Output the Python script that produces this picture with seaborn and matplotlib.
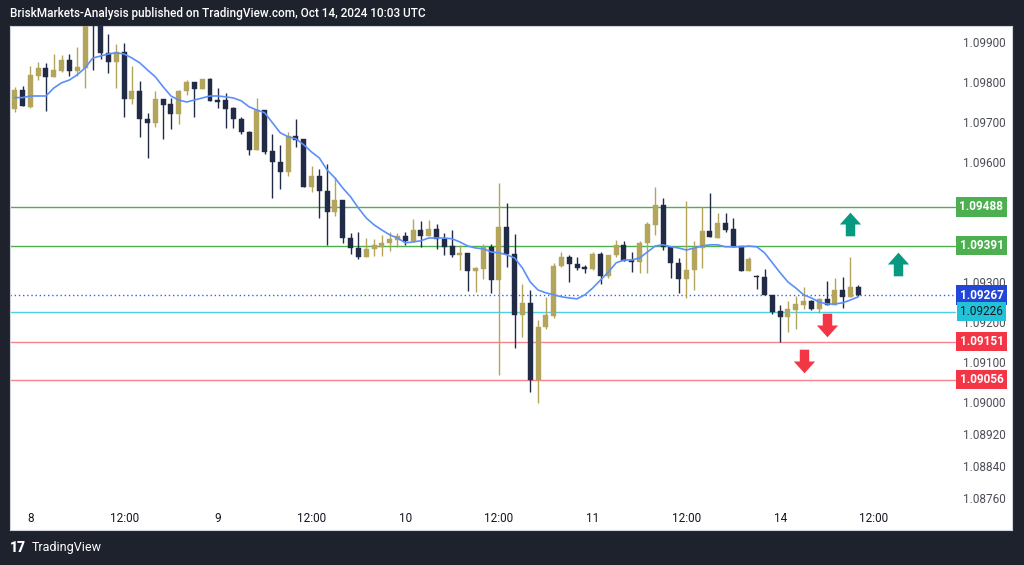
import numpy as np
import pandas as pd
import matplotlib
matplotlib.use("Agg")
import matplotlib.pyplot as plt
import matplotlib.transforms as mtransforms
from matplotlib.path import Path
import seaborn as sns

# ---------------- data (EUR/USD 1h) ----------------
opens = [1.09733, 1.09780, 1.09738, 1.09815, 1.09835, 1.09813, 1.09828, 1.09855, 1.09828, 1.09835,
         1.09950, 1.09943, 1.09873, 1.09850, 1.09875, 1.09758, 1.09778, 1.09708, 1.09698, 1.09758,
         1.09745, 1.09720, 1.09778, 1.09800, 1.09783, 1.09808, 1.09755, 1.09755, 1.09735, 1.09708,
         1.09675, 1.09630, 1.09730, 1.09628, 1.09600, 1.09575, 1.09665, 1.09658, 1.09538, 1.09565,
         1.09528, 1.09475, 1.09505, 1.09410, 1.09385, 1.09363, 1.09383, 1.09388, 1.09398, 1.09405,
         1.09415, 1.09403, 1.09430, 1.09415, 1.09433, 1.09408, 1.09390, 1.09368, 1.09373, 1.09328,
         1.09333, 1.09388, 1.09305, 1.09438, 1.09370, 1.09218, 1.09248, 1.09055, 1.09188, 1.09215,
         1.09340, 1.09363, 1.09345, 1.09338, 1.09333, 1.09370, 1.09315, 1.09368, 1.09393, 1.09355,
         1.09350, 1.09398, 1.09443, 1.09493, 1.09388, 1.09348, 1.09308, 1.09330, 1.09385, 1.09428,
         1.09410, 1.09448, 1.09433, 1.09390, 1.09328, 1.09315, 1.09313, 1.09268, 1.09228, 1.09213,
         1.09230, 1.09243, 1.09253, 1.09233, 1.09258, 1.09243, 1.09280, 1.09263, 1.09288]
highs = [1.09788, 1.09790, 1.09840, 1.09850, 1.09848, 1.09870, 1.09868, 1.09870, 1.09888, 1.09968,
         1.09968, 1.09950, 1.09920, 1.09895, 1.09898, 1.09840, 1.09803, 1.09723, 1.09778, 1.09758,
         1.09760, 1.09780, 1.09805, 1.09800, 1.09808, 1.09810, 1.09785, 1.09773, 1.09738, 1.09713,
         1.09678, 1.09760, 1.09730, 1.09670, 1.09643, 1.09675, 1.09708, 1.09658, 1.09590, 1.09583,
         1.09595, 1.09563, 1.09505, 1.09423, 1.09425, 1.09410, 1.09408, 1.09418, 1.09425, 1.09423,
         1.09425, 1.09458, 1.09453, 1.09455, 1.09445, 1.09423, 1.09430, 1.09393, 1.09373, 1.09338,
         1.09395, 1.09395, 1.09548, 1.09498, 1.09420, 1.09295, 1.09280, 1.09205, 1.09263, 1.09348,
         1.09375, 1.09368, 1.09363, 1.09343, 1.09375, 1.09375, 1.09368, 1.09405, 1.09403, 1.09375,
         1.09403, 1.09450, 1.09538, 1.09510, 1.09390, 1.09360, 1.09503, 1.09403, 1.09488, 1.09523,
         1.09473, 1.09473, 1.09460, 1.09390, 1.09363, 1.09318, 1.09333, 1.09268, 1.09243, 1.09253,
         1.09265, 1.09288, 1.09255, 1.09260, 1.09303, 1.09310, 1.09313, 1.09363, 1.09293]
lows = [1.09725, 1.09740, 1.09735, 1.09805, 1.09728, 1.09813, 1.09825, 1.09815, 1.09815, 1.09785,
        1.09830, 1.09858, 1.09823, 1.09785, 1.09713, 1.09745, 1.09663, 1.09610, 1.09688, 1.09658,
        1.09683, 1.09695, 1.09768, 1.09713, 1.09783, 1.09753, 1.09735, 1.09685, 1.09685, 1.09670,
        1.09618, 1.09630, 1.09620, 1.09510, 1.09533, 1.09565, 1.09638, 1.09538, 1.09525, 1.09460,
        1.09393, 1.09465, 1.09398, 1.09370, 1.09358, 1.09363, 1.09365, 1.09365, 1.09378, 1.09388,
        1.09393, 1.09403, 1.09388, 1.09415, 1.09383, 1.09368, 1.09363, 1.09330, 1.09278, 1.09275,
        1.09308, 1.09273, 1.09068, 1.09338, 1.09135, 1.09163, 1.09025, 1.08998, 1.09183, 1.09210,
        1.09338, 1.09300, 1.09330, 1.09323, 1.09330, 1.09295, 1.09310, 1.09363, 1.09353, 1.09325,
        1.09323, 1.09323, 1.09418, 1.09380, 1.09310, 1.09273, 1.09260, 1.09280, 1.09335, 1.09413,
        1.09410, 1.09425, 1.09388, 1.09328, 1.09328, 1.09283, 1.09268, 1.09220, 1.09150, 1.09175,
        1.09183, 1.09233, 1.09230, 1.09223, 1.09243, 1.09243, 1.09235, 1.09263, 1.09265]
closes = [1.09780, 1.09740, 1.09818, 1.09835, 1.09813, 1.09830, 1.09855, 1.09828, 1.09838, 1.09950,
          1.09943, 1.09873, 1.09850, 1.09875, 1.09758, 1.09778, 1.09708, 1.09698, 1.09758, 1.09743,
          1.09720, 1.09778, 1.09800, 1.09783, 1.09808, 1.09753, 1.09750, 1.09733, 1.09708, 1.09675,
          1.09630, 1.09730, 1.09625, 1.09600, 1.09575, 1.09665, 1.09655, 1.09538, 1.09565, 1.09528,
          1.09475, 1.09505, 1.09410, 1.09385, 1.09363, 1.09383, 1.09393, 1.09398, 1.09408, 1.09415,
          1.09403, 1.09430, 1.09415, 1.09433, 1.09408, 1.09388, 1.09368, 1.09373, 1.09328, 1.09335,
          1.09388, 1.09305, 1.09438, 1.09370, 1.09218, 1.09248, 1.09055, 1.09188, 1.09218, 1.09340,
          1.09363, 1.09345, 1.09335, 1.09333, 1.09370, 1.09315, 1.09368, 1.09393, 1.09353, 1.09350,
          1.09398, 1.09445, 1.09493, 1.09388, 1.09348, 1.09308, 1.09330, 1.09385, 1.09428, 1.09413,
          1.09448, 1.09430, 1.09388, 1.09328, 1.09358, 1.09313, 1.09268, 1.09225, 1.09213, 1.09233,
          1.09245, 1.09253, 1.09233, 1.09258, 1.09243, 1.09280, 1.09263, 1.09288, 1.09267]
ma_values = [1.09761, 1.09761, 1.09765, 1.09765, 1.09765, 1.09785, 1.09798, 1.09805, 1.09818, 1.09835,
             1.09860, 1.09865, 1.09870, 1.09873, 1.09870, 1.09860, 1.09848, 1.09830, 1.09813, 1.09788,
             1.09765, 1.09755, 1.09750, 1.09755, 1.09760, 1.09765, 1.09765, 1.09763, 1.09760, 1.09753,
             1.09738, 1.09730, 1.09723, 1.09698, 1.09673, 1.09663, 1.09658, 1.09643, 1.09625, 1.09610,
             1.09580, 1.09560, 1.09535, 1.09513, 1.09485, 1.09460, 1.09443, 1.09430, 1.09418, 1.09410,
             1.09398, 1.09400, 1.09403, 1.09410, 1.09410, 1.09410, 1.09408, 1.09400, 1.09390, 1.09385,
             1.09383, 1.09375, 1.09373, 1.09368, 1.09360, 1.09335, 1.09300, 1.09280, 1.09273, 1.09268,
             1.09263, 1.09260, 1.09258, 1.09268, 1.09285, 1.09305, 1.09325, 1.09348, 1.09355, 1.09355,
             1.09360, 1.09375, 1.09390, 1.09393, 1.09388, 1.09385, 1.09380, 1.09385, 1.09390, 1.09393,
             1.09393, 1.09388, 1.09388, 1.09388, 1.09390, 1.09388, 1.09373, 1.09348, 1.09323, 1.09300,
             1.09285, 1.09268, 1.09260, 1.09250, 1.09245, 1.09245, 1.09248, 1.09255, 1.09263]

x_tick_pos = [2, 14, 26, 38, 50, 62, 74, 86, 98, 110]
x_tick_labels = ["8", "12:00", "9", "12:00", "10", "12:00", "11", "12:00", "14", "12:00"]
y_ticks = [1.0990, 1.0980, 1.0970, 1.0960, 1.0950, 1.0930, 1.0920, 1.0910,
           1.0900, 1.0892, 1.0884, 1.0876]
y_tick_labels = ["1.09900", "1.09800", "1.09700", "1.09600", "1.09500", "1.09300",
                 "1.09200", "1.09100", "1.09000", "1.08920", "1.08840", "1.08760"]

level_prices = [1.09488, 1.09391, 1.09267, 1.09226, 1.09151, 1.09056]
level_labels = ["1.09488", "1.09391", "1.09267", "1.09226", "1.09151", "1.09056"]
level_line_colors = ["#4caf50", "#4caf50", "#2962ff", "#4dd0e1", "#f7848d", "#f7848d"]
level_box_colors = ["#4caf50", "#4caf50", "#2246d8", "#22c3d8", "#f23645", "#f23645"]
level_text_colors = ["white", "white", "white", "#131722", "white", "white"]

arrow_up_x = [106.9, 113.1]
arrow_up_y = [1.09445, 1.09345]
arrow_dn_x = [104.0, 101.0]
arrow_dn_y = [1.09193, 1.09103]

# ---------------- styling ----------------
sns.set_theme(style="white")
plt.rcParams["font.family"] = ["Roboto", "DejaVu Sans"]

BG = "#1e222d"
BULL = "#b3a55c"
BEAR = "#222b45"

fig = plt.figure(figsize=(10.24, 5.65), dpi=100, facecolor=BG)
W, H = 1024, 565
ax = fig.add_axes([9.5 / W, 35 / H, 1002.5 / W, 504 / H])
ax.set_facecolor("white")
for s in ax.spines.values():
    s.set_color("#cfd2da")
    s.set_linewidth(0.8)

df = pd.DataFrame({"idx": np.arange(len(opens)), "open": opens, "high": highs,
                   "low": lows, "close": closes, "ma": ma_values})
df["bull"] = df["close"] >= df["open"]
df["color"] = np.where(df["bull"], BULL, BEAR)

# wicks
ax.vlines(df["idx"], df["low"], df["high"], colors=df["color"], linewidth=1.0, zorder=3)
# bodies
body_bottom = np.minimum(df["open"], df["close"])
body_height = np.maximum(np.abs(df["close"] - df["open"]), 0.000025)
ax.bar(df["idx"], body_height, bottom=body_bottom, width=0.64, color=df["color"],
       edgecolor=df["color"], linewidth=0.3, zorder=4)

# moving average line
sns.lineplot(data=df, x="idx", y="ma", ax=ax, color="#5b8ff9", linewidth=1.2, zorder=5)

# horizontal levels
line_end = (955 - 9.5) / 1002.5
for p, lc in zip(level_prices, level_line_colors):
    ls = (0, (1, 2)) if lc == "#2962ff" else "-"
    ax.axhline(p, xmin=0, xmax=line_end, color=lc, linewidth=1.0, linestyle=ls, zorder=2)

# arrows (block-arrow markers)
up_verts = [(0, 0.5), (0.45, 0.0), (0.2, 0.0), (0.2, -0.5), (-0.2, -0.5), (-0.2, 0.0),
            (-0.45, 0.0), (0, 0.5)]
up_path = Path(up_verts, [Path.MOVETO] + [Path.LINETO] * 6 + [Path.CLOSEPOLY])
dn_path = Path([(x, -y) for x, y in up_verts], [Path.MOVETO] + [Path.LINETO] * 6 + [Path.CLOSEPOLY])
ax.scatter(arrow_up_x, arrow_up_y, marker=up_path, s=17 ** 2, color="#089981", linewidths=0, zorder=6)
ax.scatter(arrow_dn_x, arrow_dn_y, marker=dn_path, s=17 ** 2, color="#f23645", linewidths=0, zorder=6)

# axes ranges / ticks
ax.set_xlim(-0.67, 127.68)
ax.set_ylim(1.0868, 1.0994)
ax.set_xticks(x_tick_pos)
ax.set_xticklabels(x_tick_labels)
ax.yaxis.tick_right()
ax.set_yticks(y_ticks)
ax.set_yticklabels(y_tick_labels)
ax.tick_params(axis="y", length=0, pad=-35.5, labelsize=8.5, labelcolor="#4a4d57")
ax.tick_params(axis="x", length=0, pad=-13, labelsize=8.5, labelcolor="#131722")
ax.set_xlabel("")
ax.set_ylabel("")
ax.grid(False)

# price labels on scale
trans = mtransforms.blended_transform_factory(ax.transAxes, ax.transData)
box_x = (981.5 - 9.5) / 1002.5
for p, lab, bc, tc in zip(level_prices, level_labels, level_box_colors, level_text_colors):
    ax.text(box_x, p, lab, transform=trans, ha="center", va="center", fontsize=8.5,
            fontweight="bold" if tc == "white" else "normal", color=tc, zorder=10,
            bbox=dict(boxstyle="square,pad=0.28", facecolor=bc, edgecolor="none"))

# header / footer
fig.text(10 / W, 1 - 13 / H, "BriskMarkets-Analysis published on TradingView.com, Oct 14, 2024 10:03 UTC",
         color="white", fontsize=8.5, fontweight="medium", ha="left", va="center")
fig.text(10 / W, 1 - 548 / H, "17", color="white", fontsize=10, fontweight="heavy",
         ha="left", va="center")
fig.text(32 / W, 1 - 548 / H, "TradingView", color="white", fontsize=9,
         ha="left", va="center")

fig.savefig("out.png", dpi=100, facecolor=BG)
